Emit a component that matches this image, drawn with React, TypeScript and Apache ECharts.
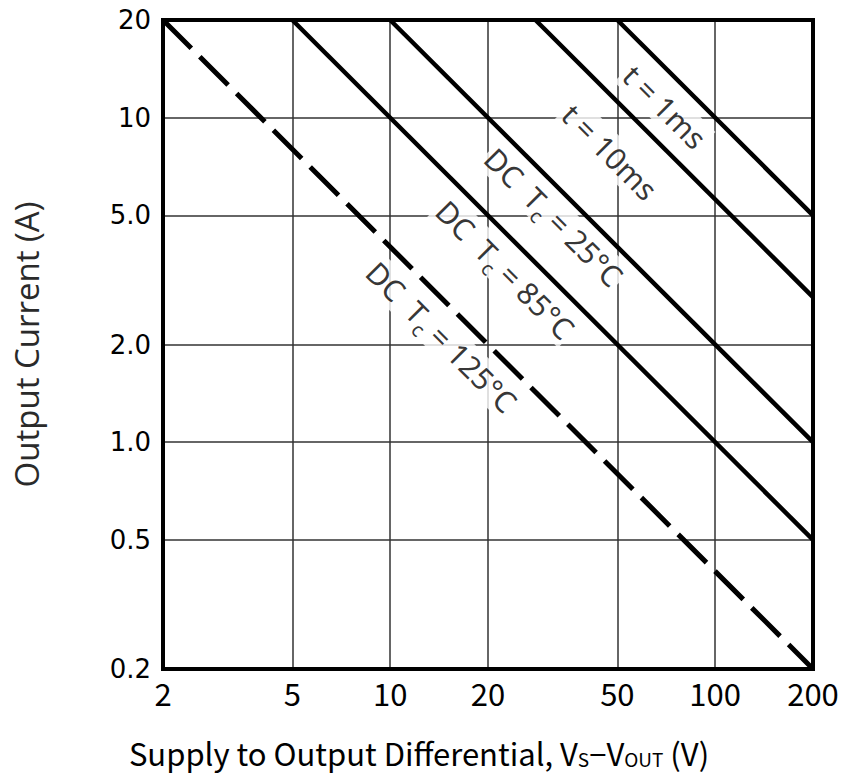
import React, { useEffect, useRef } from "react";
import * as echarts from "echarts";

// Axis ticks
const xTicks = [2, 5, 10, 20, 50, 100, 200];
const xTickLabels = ["2", "5", "10", "20", "50", "100", "200"];
const yTicks = [0.2, 0.5, 1, 2, 5, 10, 20];
const yTickLabels = ["0.2", "0.5", "1.0", "2.0", "5.0", "10", "20"];

// Safe operating area curves (V, I endpoints)
const curveNames = ["t = 1ms", "t = 10ms", "DC Tc = 25°C", "DC Tc = 85°C", "DC Tc = 125°C"];
const curveV = [
  [50, 200],
  [28, 200],
  [10, 200],
  [5, 200],
  [2, 200],
];
const curveI = [
  [20, 5],
  [20, 2.8],
  [20, 1.0],
  [20, 0.5],
  [20, 0.2],
];
const curveDashed = [false, false, false, false, true];

// Curve annotations (anchor in data coords)
const labelTexts = [
  "{a|t = 1ms}",
  "{a|t = 10ms}",
  "{a|DC\u2002T}{s|c}{a| = 25°C}",
  "{a|DC\u2002T}{s|c}{a| = 85°C}",
  "{a|DC\u2002T}{s|c}{a| = 125°C}",
];
const labelV = [70, 47.4, 31.9, 22.6, 14.4];
const labelI = [10.8, 7.84, 4.94, 3.4, 2.11];

const X_TITLE = "{a|Supply to Output Differential, V}{s|S}{a|−V}{s|OUT}{a| (V)}";
const Y_TITLE = "Output Current (A)";

function labelFor(v: number, ticks: number[], labels: string[]) {
  const i = ticks.findIndex((t) => Math.abs(t - v) / t < 1e-6);
  return i >= 0 ? labels[i] : "";
}

export default function App() {
  const ref = useRef<HTMLDivElement>(null);
  useEffect(() => {
    if (!ref.current) return;
    const chart = echarts.init(ref.current, undefined, { renderer: "svg" });
    const gothic = "'Noto Sans CJK JP', 'Noto Sans', sans-serif";
    const lineSeries = curveNames.map((name, i) => ({
      type: "line",
      name,
      data: curveV[i].map((v, j) => [v, curveI[i][j]]),
      symbol: "none",
      silent: true,
      z: 4,
      lineStyle: {
        color: "#000",
        width: curveDashed[i] ? 5 : 4.5,
        type: curveDashed[i] ? [40, 12] : "solid",
        cap: "butt",
      },
    }));
    const option: any = {
      animation: false,
      backgroundColor: "#fff",
      grid: {
        left: 163,
        right: 31,
        top: 20,
        bottom: 105,
        outerBoundsMode: "none",
        containLabel: false,
        show: true,
        borderColor: "#000",
        borderWidth: 4,
        backgroundColor: "transparent",
        z: 10,
      },
      xAxis: {
        type: "log",
        logBase: 10,
        min: 2,
        max: 200,
        axisLine: { show: false },
        axisTick: { show: false, customValues: xTicks },
        splitLine: { show: true, lineStyle: { color: "#333", width: 1.5 } },
        axisLabel: {
          customValues: xTicks,
          formatter: (v: number) => labelFor(v, xTicks, xTickLabels),
          fontFamily: gothic,
          fontSize: 31,
          color: "#000",
          margin: 8,
        },
        name: X_TITLE,
        nameLocation: "middle",
        nameGap: 64,
        nameTextStyle: {
          padding: [0, 138, 0, 0],
          rich: {
            a: { fontFamily: gothic, fontSize: 31, color: "#000", lineHeight: 38 },
            s: { fontFamily: gothic, fontSize: 19, color: "#000", lineHeight: 26, padding: [12, 0, 0, 0] },
          },
        },
      },
      yAxis: {
        type: "log",
        logBase: 10,
        min: 0.2,
        max: 20,
        axisLine: { show: false },
        axisTick: { show: false, customValues: yTicks },
        splitLine: { show: true, lineStyle: { color: "#333", width: 1.5 } },
        axisLabel: {
          customValues: yTicks,
          formatter: (v: number) => labelFor(v, yTicks, yTickLabels),
          fontFamily: "'DejaVu Sans', sans-serif",
          fontSize: 26,
          color: "#000",
          margin: 12,
        },
        name: Y_TITLE,
        nameLocation: "middle",
        nameGap: 120,
        nameTextStyle: {
          fontFamily: "'Open Sans', sans-serif",
          fontSize: 33,
          color: "#2a2a2a",
        },
      },
      series: [
        ...lineSeries,
        {
          type: "scatter",
          symbolSize: 0,
          silent: true,
          z: 3,
          data: labelV.map((v, i) => ({
            value: [v, labelI[i]],
            label: { formatter: labelTexts[i] },
          })),
          label: {
            show: true,
            position: "inside",
            rotate: -45,
            align: "center",
            verticalAlign: "middle",
            color: "#000",
            backgroundColor: "#fff",
            padding: [0, 2],
            rich: {
              a: { fontFamily: "'Noto Sans', sans-serif", fontSize: 30, color: "#000", lineHeight: 36 },
              s: { fontFamily: "'Noto Sans', sans-serif", fontSize: 20, color: "#000", lineHeight: 14, padding: [22, 0, 0, 0] },
            },
          },
        },
      ],
    };
    chart.setOption(option);
    return () => chart.dispose();
  }, []);
  return (
    <div
      ref={ref}
      style={{ position: "fixed", left: 0, top: 0, width: 844, height: 774, background: "#fff" }}
    />
  );
}
